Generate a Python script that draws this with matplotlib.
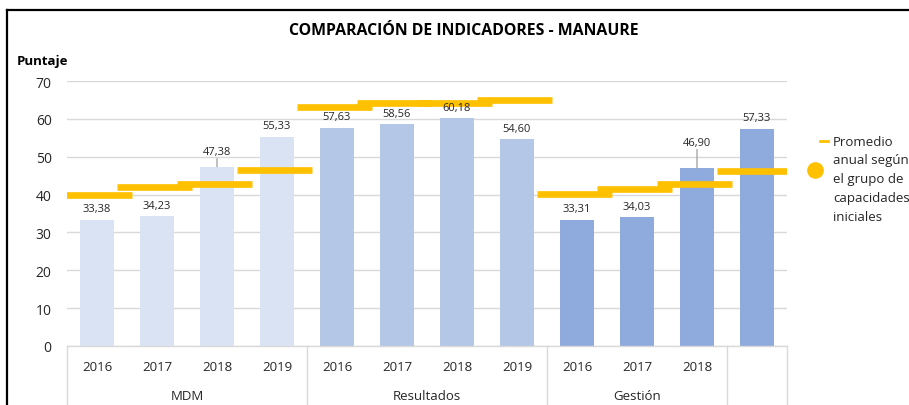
import matplotlib
matplotlib.use("Agg")
from matplotlib import pyplot as plt
from matplotlib.lines import Line2D
import numpy as np

plt.rcParams['font.family'] = ['Open Sans', 'DejaVu Sans']

# data
groups = ["MDM", "Resultados", "Gestión", ""]
group_sizes = [4, 4, 3, 1]
years = ["2016", "2017", "2018", "2019",
         "2016", "2017", "2018", "2019",
         "2016", "2017", "2018", ""]
values = [33.38, 34.23, 47.38, 55.33,
          57.63, 58.56, 60.18, 54.60,
          33.31, 34.03, 46.90, 57.33]
promedio = [40.0, 41.9, 42.7, 46.6,
            63.1, 64.1, 64.2, 64.9,
            40.1, 41.6, 42.7, 46.2]

group_colors = ["#DAE3F3", "#B4C7E7", "#8FAADC", "#8FAADC"]
yellow = "#FFC000"
grid_c = "#D9D9D9"
text_c = "#262626"

W, H = 909, 406
fig = plt.figure(figsize=(W / 100, H / 100), dpi=100)
ax = fig.add_axes([67 / W, (H - 347) / H, 720 / W, (347 - 82) / H])

x = np.arange(len(values))
bar_colors = []
for g, n in enumerate(group_sizes):
    bar_colors += [group_colors[g]] * n

ax.bar(x, values, width=0.57, color=bar_colors, zorder=2)

# average markers: wide flat dashes, a bit left of each bar
ax.hlines(promedio, x - 0.665, x + 0.585, colors=yellow, linewidth=4.8, zorder=3)

ax.set_xlim(-0.5, len(values) - 0.5)
ax.set_ylim(0, 70)
ax.set_yticks(range(0, 71, 10))
ax.set_xticks([])
ax.tick_params(axis='y', length=0, labelsize=10, labelcolor=text_c, pad=11)
ax.grid(axis='y', color=grid_c, linewidth=1, zorder=0)
for s in ["top", "right", "left"]:
    ax.spines[s].set_visible(False)
ax.spines["bottom"].set_color(grid_c)
ax.spines["bottom"].set_linewidth(1)

# data labels (pixel offsets above bar top)
label_off = {2: 15, 10: 26}
for i, v in enumerate(values):
    off = label_off.get(i, 11)
    ax.annotate(f"{v:.2f}".replace(".", ","), (i, v), xytext=(0, off),
                textcoords="offset pixels", ha="center", va="center",
                fontsize=8, color=text_c, zorder=4)
    if i in label_off:
        ax.annotate("", (i, v), xytext=(0, off - 7), textcoords="offset pixels",
                    arrowprops=dict(arrowstyle="-", color="#A6A6A6", lw=1,
                                    shrinkA=0, shrinkB=0))

# category axis: years and groups
for i, yr in enumerate(years):
    fig.text((67 + 60 * i + 30) / W, (H - 368) / H, yr, ha="center", va="center",
             fontsize=9.5, color=text_c)
start = 0
edges = [0]
for g, n in zip(groups, group_sizes):
    mid = start + n / 2
    fig.text((67 + 60 * mid) / W, (H - 397) / H, g, ha="center", va="center",
             fontsize=9.5, color=text_c)
    start += n
    edges.append(start)
for e in edges:
    xp = (67 + 60 * e) / W
    fig.add_artist(Line2D([xp, xp], [0, (H - 347) / H], color=grid_c, lw=1))

# titles
fig.text(464 / W, (H - 31) / H, "COMPARACIÓN DE INDICADORES - MANAURE",
         ha="center", va="center", fontsize=11.4, fontweight="bold", color="black")
fig.text(17 / W, (H - 62) / H, "Puntaje", ha="left", va="center",
         fontsize=9.5, fontweight="bold", color="black")

# legend
fig.add_artist(Line2D([820 / W, 828 / W], [(H - 142) / H] * 2, color=yellow, lw=2))
fig.add_artist(Line2D([815 / W], [(H - 171) / H], marker="o", markersize=11,
                      color=yellow, linestyle="none"))
leg_lines = ["Promedio", "anual según", "el grupo de", "capacidades", "iniciales"]
for k, t in enumerate(leg_lines):
    fig.text(833 / W, (H - 142 - 18.8 * k) / H, t, ha="left", va="center",
             fontsize=9.5, color=text_c)

# chart border
fig.add_artist(Line2D([7 / W, 909 / W], [(H - 11) / H] * 2, color="black", lw=1.6))
fig.add_artist(Line2D([7 / W, 7 / W], [0, (H - 11) / H], color="black", lw=1.6))

fig.savefig("out.png", dpi=100)
